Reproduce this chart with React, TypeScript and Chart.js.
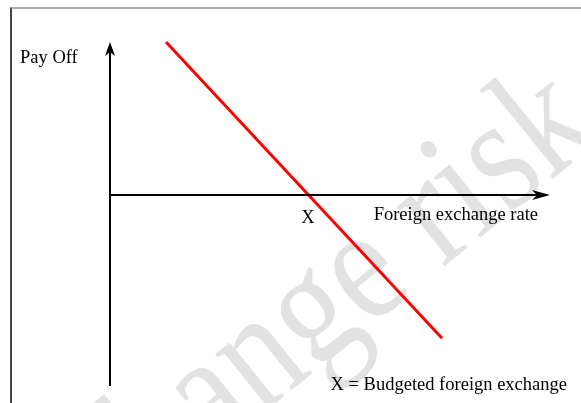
import React, { useEffect, useRef } from "react";
import { Chart, registerables } from "chart.js";

Chart.register(...registerables);

// Axis extents (in chart units)
const axisXRange = [0, 11];
const axisYRange = [-5, 4];
// Payoff line (exchange rate, payoff)
const payoffX = [1.4, 8.3];
const payoffY = [4.0, -3.75];
// Budgeted rate X
const budgetedRate = [4.95];
// Labels
const yAxisLabel = "Pay Off";
const xAxisLabel = "Foreign exchange rate";
const pointLabel = "X";
const noteLabel = "X = Budgeted foreign exchange";
const watermarkHead = "exch";
const watermarkTail = "ange risk";

const FONT = "18.5px 'Liberation Serif', 'Times New Roman', serif";

const decorPlugin = {
  id: "decor",
  beforeDatasetsDraw(chart: any) {
    const { ctx } = chart;
    ctx.save();
    ctx.translate(184, 418);
    ctx.rotate((-39 * Math.PI) / 180);
    ctx.translate(0, 46);
    ctx.scale(1, 1.2);
    ctx.font = "138px 'Liberation Serif', 'Times New Roman', serif";
    ctx.fillStyle = "#e2e2e2";
    ctx.textAlign = "left";
    ctx.textBaseline = "alphabetic";
    const wHead = ctx.measureText(watermarkHead).width;
    ctx.fillText(watermarkHead + watermarkTail, -wHead, 0);
    ctx.restore();
  },
  afterDatasetsDraw(chart: any) {
    const { ctx, scales } = chart;
    const xs = scales.x;
    const ys = scales.y;
    const ox = xs.getPixelForValue(0);
    const oy = ys.getPixelForValue(0);
    ctx.save();
    ctx.fillStyle = "#000";
    // up arrow
    const tx = ox;
    const ty = ys.getPixelForValue(axisYRange[1]);
    ctx.beginPath();
    ctx.moveTo(tx, ty);
    ctx.lineTo(tx + 5, ty + 14);
    ctx.lineTo(tx, ty + 10);
    ctx.lineTo(tx - 5, ty + 14);
    ctx.closePath();
    ctx.fill();
    // right arrow
    const rx = xs.getPixelForValue(axisXRange[1]);
    const ry = oy;
    ctx.beginPath();
    ctx.moveTo(rx, ry);
    ctx.lineTo(rx - 18, ry - 5);
    ctx.lineTo(rx - 13, ry);
    ctx.lineTo(rx - 18, ry + 5);
    ctx.closePath();
    ctx.fill();

    ctx.font = FONT;
    ctx.textBaseline = "alphabetic";
    ctx.textAlign = "left";
    ctx.fillText(yAxisLabel, 20, 63);
    ctx.textAlign = "center";
    ctx.fillText(pointLabel, xs.getPixelForValue(budgetedRate[0]), oy + 28);
    ctx.textAlign = "right";
    ctx.fillText(xAxisLabel, 538, oy + 25);
    ctx.fillText(noteLabel, 567, 390);
    ctx.restore();
  },
};

export default function App() {
  const ref = useRef<HTMLCanvasElement>(null);
  useEffect(() => {
    const chart = new Chart(ref.current!, {
      type: "scatter",
      data: {
        datasets: [
          {
            data: [
              { x: axisXRange[0], y: 0 },
              { x: axisXRange[1] - 0.3, y: 0 },
            ],
            showLine: true,
            borderColor: "#000",
            borderWidth: 2,
            pointRadius: 0,
            clip: false,
          } as any,
          {
            data: [
              { x: 0, y: axisYRange[0] },
              { x: 0, y: axisYRange[1] - 0.25 },
            ],
            showLine: true,
            borderColor: "#000",
            borderWidth: 2,
            pointRadius: 0,
            clip: false,
          } as any,
          {
            data: payoffX.map((x, i) => ({ x, y: payoffY[i] })),
            showLine: true,
            borderColor: "#ff0000",
            borderWidth: 3,
            pointRadius: 0,
            clip: false,
          } as any,
        ],
      },
      options: {
        animation: false,
        responsive: false,
        maintainAspectRatio: false,
        layout: { padding: { left: 110, right: 31, top: 42, bottom: 17 } },
        plugins: { legend: { display: false }, tooltip: { enabled: false } },
        scales: {
          x: { type: "linear", min: axisXRange[0], max: axisXRange[1], display: false },
          y: { type: "linear", min: axisYRange[0], max: axisYRange[1], display: false },
        },
      },
      plugins: [decorPlugin],
    });
    return () => chart.destroy();
  }, []);
  return (
    <div style={{ position: "fixed", left: 0, top: 0, width: 581, height: 403, background: "#fff" }}>
      <canvas ref={ref} width={581} height={403} style={{ position: "absolute", left: 0, top: 0 }} />
      <div
        style={{
          position: "absolute",
          left: 10,
          top: 7,
          width: 571,
          height: 396,
          borderLeft: "2px solid #444",
          borderTop: "2px solid #aaa",
          boxSizing: "border-box",
        }}
      />
    </div>
  );
}
